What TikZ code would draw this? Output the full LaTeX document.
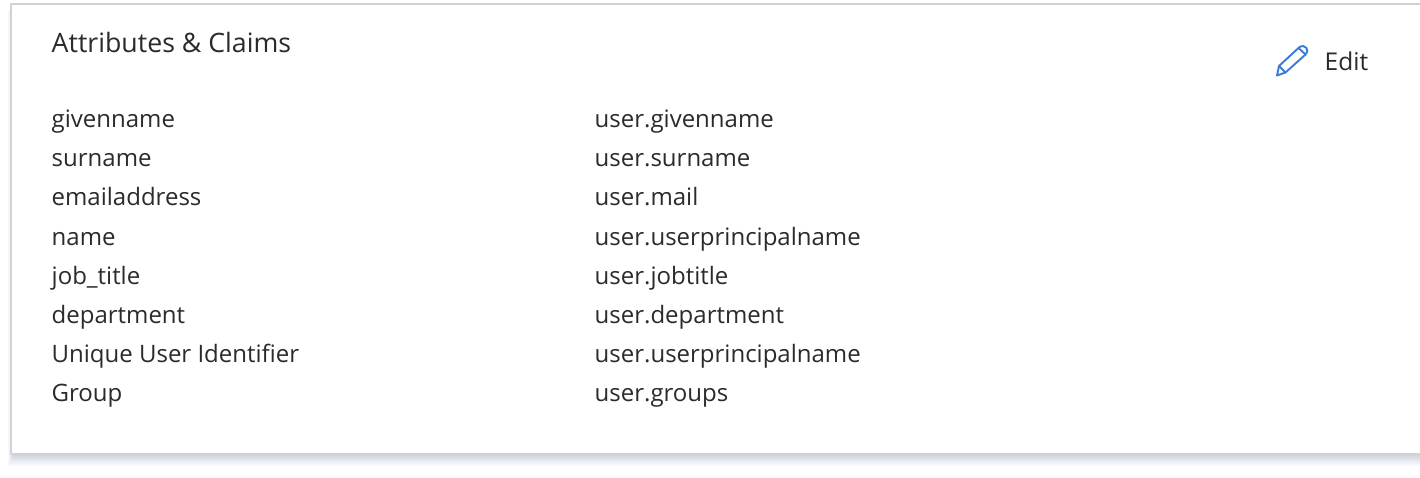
\documentclass[tikz,border=0pt]{standalone}
\usepackage{fontspec}
\setmainfont{Open Sans}
\definecolor{framegray}{HTML}{D2D2D2}
\definecolor{shadowblue}{HTML}{C0C9D9}
\definecolor{inkgray}{HTML}{2B2B2B}
\definecolor{pencilblue}{HTML}{3A7BD5}
\tikzset{
  rowtext/.style={anchor=base west, inner sep=0pt, text=inkgray, font=\fontsize{24}{28}\selectfont},
}
\begin{document}
\begin{tikzpicture}[x=1pt,y=-1pt,line join=round,line cap=round]
  \useasboundingbox (0,0) rectangle (1420,478);
  \fill[white] (0,0) rectangle (1420,478);
  % shadow under the card
  \foreach \d/\op in {13/0.10,11/0.14,9/0.18,7/0.22,5/0.28,3/0.34} {
    \fill[shadowblue, opacity=\op] (14-\d*0.5,10) rectangle (1420,453+\d);
  }
  \node[draw=framegray, fill=white, line width=2.2pt, inner sep=0pt, minimum width=1440pt, minimum height=450pt, anchor=north west] (card) at (9.5,3) {};
  \node[rowtext, font=\fontsize{26.7}{32}\selectfont] (title) at (51.5,53) {Attributes \& Claims};
  \node[rowtext, font=\fontsize{24.5}{30}\selectfont] (edit) at (1324.5,71) {Edit};
  \foreach \row/\la/\lb in {
    0/givenname/user.givenname,
    1/surname/user.surname,
    2/emailaddress/user.mail,
    3/name/user.userprincipalname,
    4/job\_title/user.jobtitle,
    5/department/user.department,
    6/Unique User Identifier/user.userprincipalname,
    7/Group/user.groups} {
    \node[rowtext] (claim\row) at (51.5,128+\row*39) {\la};
    \node[rowtext] (value\row) at (594.5,128+\row*39) {\lb};
  }
  % pencil icon
  \begin{scope}[pencilblue, line width=1.9pt]
    \draw (1277,75.5) -- (1279,66) -- (1299,47.5) .. controls (1301.5,45.5) and (1305,45.5) .. (1306.5,48) .. controls (1308,50.5) and (1307.5,52.5) .. (1305.5,54.5) -- (1285.5,72.5) -- cycle;
    \draw (1279,66) -- (1285.5,72.5);
    \draw (1298.5,48) -- (1305.5,54.5);
  \end{scope}
\end{tikzpicture}
\end{document}
